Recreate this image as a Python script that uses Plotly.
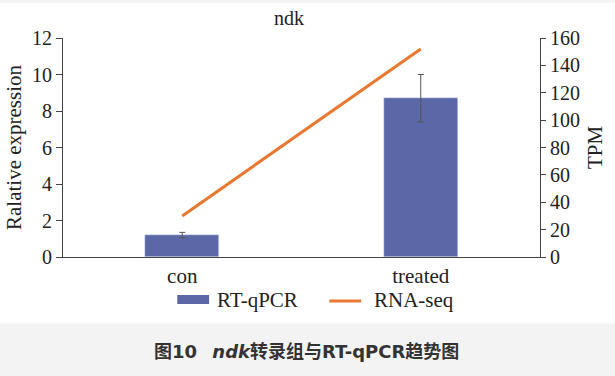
import plotly.graph_objects as go

categories = ["con", "treated"]
rtqpcr = [1.2, 8.7]
rtqpcr_err = [0.15, 1.3]
rnaseq = [30, 152]
left_ticks = [0, 2, 4, 6, 8, 10, 12]
right_ticks = [0, 20, 40, 60, 80, 100, 120, 140, 160]

BAR = "#5b67a6"
LINE = "#e8782f"
SERIF = "Liberation Serif"
AX = "#444444"
TXT = "#222222"

fig = go.Figure()
fig.add_trace(go.Bar(
    x=categories, y=rtqpcr, name="RT-qPCR", marker_color=BAR, width=0.31,
    error_y=dict(type="data", array=rtqpcr_err, color="#555555", thickness=1, width=3),
    showlegend=False,
))
fig.add_trace(go.Scatter(
    x=categories, y=rnaseq, name="RNA-seq", mode="lines", yaxis="y2",
    line=dict(color=LINE, width=3), showlegend=False,
))

L, R, T, B = 63, 72, 38, 119
W, H = 615, 376
pw, ph = W - L - R, H - T - B

def px(x):
    return (x - L) / pw

def py(y):
    return (H - B - y) / ph

shapes = [
    # caption band
    dict(type="rect", xref="paper", yref="paper", x0=px(-5), x1=px(W + 5), y0=py(323), y1=py(H + 5),
         fillcolor="#f3f3f3", line_width=0, layer="below"),
    dict(type="rect", xref="paper", yref="paper", x0=px(-5), x1=px(W + 5), y0=py(-5), y1=py(2.5),
         fillcolor="#f3f3f3", line_width=0, layer="below"),
    # legend symbols
    dict(type="rect", xref="paper", yref="paper", x0=px(178), x1=px(210), y0=py(295), y1=py(304),
         fillcolor=BAR, line_width=0),
    dict(type="line", xref="paper", yref="paper", x0=px(331), x1=px(363), y0=py(301), y1=py(301),
         line=dict(color=LINE, width=3)),
]

annotations = [
    dict(text="ndk", xref="paper", yref="paper", x=px(290), y=py(18), showarrow=False,
         xanchor="center", yanchor="middle", font=dict(family=SERIF, size=20, color=TXT)),
    dict(text="RT-qPCR", xref="paper", yref="paper", x=px(216), y=py(300), showarrow=False,
         xanchor="left", yanchor="middle", font=dict(family=SERIF, size=21, color=TXT)),
    dict(text="RNA-seq", xref="paper", yref="paper", x=px(374), y=py(300), showarrow=False,
         xanchor="left", yanchor="middle", font=dict(family=SERIF, size=21, color=TXT)),
    dict(text="<b>图10\u2002 <i>ndk</i>转录组与RT-qPCR趋势图</b>", xref="paper", yref="paper",
         x=px(308), y=py(351), showarrow=False, xanchor="center", yanchor="middle",
         font=dict(family="DejaVu Sans, Noto Sans CJK SC", size=18, color="#333333")),
]

fig.update_layout(
    width=W, height=H,
    margin=dict(l=L, r=R, t=T, b=B, pad=0),
    paper_bgcolor="white", plot_bgcolor="white",
    font=dict(family=SERIF, size=19, color=TXT),
    showlegend=False,
    bargap=0.0,
    shapes=shapes,
    annotations=annotations,
    xaxis=dict(
        type="category", range=[-0.5, 1.5], showline=True, linecolor=AX, linewidth=1,
        ticks="", showgrid=False, zeroline=False,
        tickfont=dict(family=SERIF, size=21, color=TXT),
    ),
    yaxis=dict(
        range=[0, 12], tickvals=left_ticks, ticks="outside", ticklen=6, tickcolor=AX,
        showline=True, linecolor=AX, linewidth=1, showgrid=False, zeroline=False,
        tickfont=dict(family=SERIF, size=20, color=TXT),
        title=dict(text="Ralative expression", standoff=4, font=dict(family=SERIF, size=21, color=TXT)),
    ),
    yaxis2=dict(
        range=[0, 160], tickvals=right_ticks, overlaying="y", side="right",
        ticks="outside", ticklen=5, tickcolor=AX,
        showline=True, linecolor=AX, linewidth=1, showgrid=False, zeroline=False,
        tickfont=dict(family=SERIF, size=20, color=TXT),
        title=dict(text="TPM", standoff=8, font=dict(family=SERIF, size=21, color=TXT)),
    ),
)

fig.write_html(
    "out.html",
    config={"displayModeBar": False},
    post_script="document.body.style.margin='0';document.body.style.overflow='hidden';",
)
